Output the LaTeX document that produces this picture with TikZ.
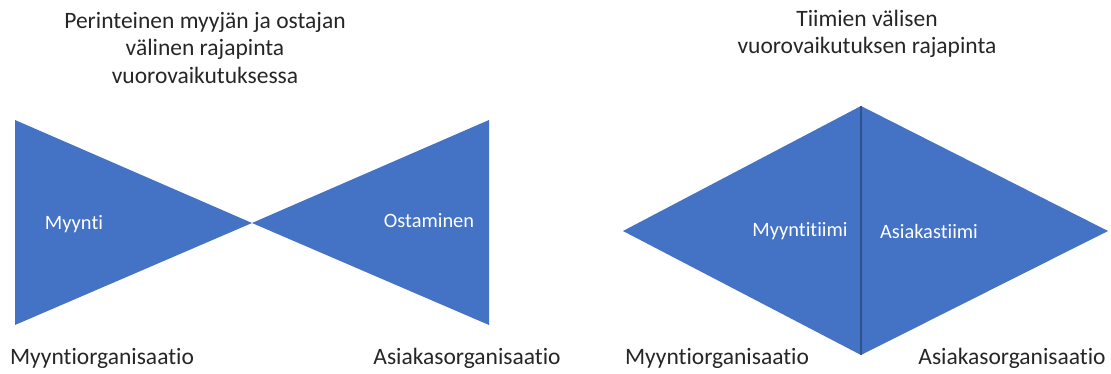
\documentclass[tikz,border=0pt]{standalone}
\usepackage{xcolor}
\usepackage{fontspec}
\setmainfont[Ligatures=NoCommon]{Carlito}
\definecolor{C4472C4}{HTML}{4472C4}
\definecolor{C2F528F}{HTML}{2F528F}
\definecolor{C262626}{HTML}{262626}
\tikzset{
  blk/.style={fill=C4472C4, draw=none},
  lbl/.style={inner sep=0pt, align=center, text=C262626, font=\fontsize{23.5}{27.5}\selectfont},
  inlbl/.style={inner sep=0pt, text=white, font=\fontsize{20.4}{24}\selectfont},
}
\begin{document}
\begin{tikzpicture}[x=1pt,y=-1pt]
\useasboundingbox (0,0) rectangle (1111,374);

% left picture: two triangles
\coordinate (lt) at (15,120);
\coordinate (lb) at (15,325);
\coordinate (mid) at (252,223);
\coordinate (rt) at (489,120);
\coordinate (rb) at (489,325);
\path [blk] (lt)--(mid)--(lb)--cycle;
\path [blk] (rt)--(mid)--(rb)--cycle;

% right picture: diamond
\coordinate (dl) at (623,231);
\coordinate (dt) at (861,106);
\coordinate (dr) at (1108,231);
\coordinate (db) at (861,355);
\path [blk] (dl)--(dt)--(dr)--(db)--cycle;
\path [draw=C2F528F, line width=1.2pt] (dt)--(db);

\node (t1) [lbl, at={(205,48)}] {Perinteinen myyjän ja ostajan\\välinen rajapinta\\vuorovaikutuksessa};
\node (t2) [lbl, at={(867,34)}] {Tiimien välisen\\vuorovaikutuksen rajapinta};

\node (n0) [inlbl, at={(74,224)}] {Myynti};
\node (n1) [inlbl, at={(429,221)}] {Ostaminen};
\node (n2) [inlbl, at={(800,231)}] {Myyntitiimi};
\node (n3) [inlbl, at={(929,231)}] {Asiakastiimi};

\node (n4) [lbl, at={(102,358)}] {Myyntiorganisaatio};
\node (n5) [lbl, at={(467,358)}] {Asiakasorganisaatio};
\node (n6) [lbl, at={(717,358)}] {Myyntiorganisaatio};
\node (n7) [lbl, at={(1012,358)}] {Asiakasorganisaatio};
\end{tikzpicture}
\end{document}
